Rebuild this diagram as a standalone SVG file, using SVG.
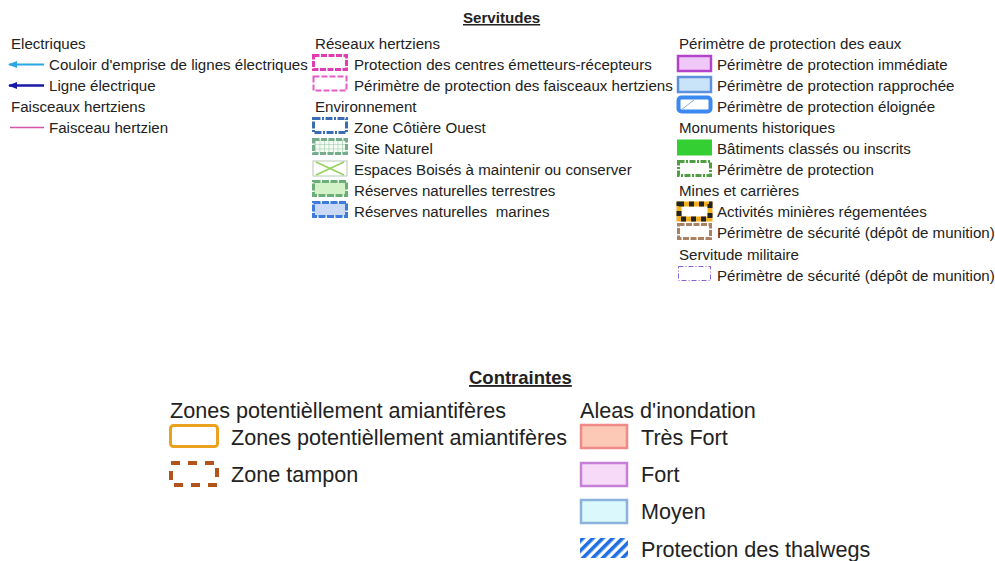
<svg xmlns="http://www.w3.org/2000/svg" width="995" height="561" viewBox="0 0 995 561">
<style>
.t{font-family:"Liberation Sans",Arial,sans-serif;font-size:15.1px;fill:#222}
.big{font-size:21.6px}
.ttl{font-weight:bold;text-decoration:underline}
</style>
<defs>
<marker id="arrA" markerUnits="userSpaceOnUse" markerWidth="9" markerHeight="7" refX="8" refY="3.5" orient="auto" viewBox="0 0 9 7"><path d="M0 0 L9 3.5 L0 7 Z" fill="#29a6e6"/></marker>
<marker id="arrB" markerUnits="userSpaceOnUse" markerWidth="9" markerHeight="7" refX="8" refY="3.5" orient="auto" viewBox="0 0 9 7"><path d="M0 0 L9 3.5 L0 7 Z" fill="#1a1aa6"/></marker>
<pattern id="grid" width="4.5" height="4.5" patternUnits="userSpaceOnUse"><rect width="4.5" height="4.5" fill="#f4fbf4"/><path d="M0 0H4.5M0 0V4.5" stroke="#8cc49a" stroke-width="1"/></pattern>
<pattern id="hatch" width="7" height="7" patternUnits="userSpaceOnUse" patternTransform="rotate(45)"><rect width="7" height="7" fill="#fff"/><rect width="3.6" height="7" fill="#1f6fe0"/></pattern>
</defs>

<text class="t ttl" x="463" y="23">Servitudes</text>

<g id="electriques">
<text class="t" x="11" y="48.5">Electriques</text>
</g>
<g id="connectors">
<line id="couloir-line" x1="44" y1="64.5" x2="9" y2="64.5" stroke="#29a6e6" stroke-width="2" marker-end="url(#arrA)"/>
<line id="ligne-line" x1="44" y1="85.5" x2="9" y2="85.5" stroke="#1a1aa6" stroke-width="2.5" marker-end="url(#arrB)"/>
<line id="faisceau-line" x1="10" y1="127.5" x2="44" y2="127.5" stroke="#d455a8" stroke-width="1.5"/>
</g>
<g id="couloir">
<text class="t" x="49" y="69.5">Couloir d'emprise de lignes électriques</text>
</g>
<g id="ligne">
<text class="t" x="49" y="90.5">Ligne électrique</text>
</g>
<g id="faisceaux-hdr">
<text class="t" x="11" y="111.5">Faisceaux hertziens</text>
</g>
<g id="faisceau">
<text class="t" x="49" y="132.5">Faisceau hertzien</text>
</g>

<g id="reseaux-hdr"><text class="t" x="315" y="48.5">Réseaux hertziens</text></g>
<g id="centres">
<rect x="313.5" y="55.5" width="33" height="14" fill="#fff" stroke="#e03cb4" stroke-width="3" stroke-dasharray="6 1.5"/>
<text class="t" x="354" y="69.5">Protection des centres émetteurs-récepteurs</text>
</g>
<g id="faisceaux-perim">
<rect x="313.5" y="76.5" width="33" height="14" fill="#fff" stroke="#e45cc6" stroke-width="2" stroke-dasharray="6 2"/>
<text class="t" x="354" y="90.5">Périmètre de protection des faisceaux hertziens</text>
</g>
<g id="env-hdr"><text class="t" x="315" y="111.5">Environnement</text></g>
<g id="cotiere">
<rect x="313.5" y="118.5" width="33" height="14" fill="#fff" stroke="#3a6db4" stroke-width="3" stroke-dasharray="7 1.5 2 1.5"/>
<text class="t" x="354" y="132.5">Zone Côtière Ouest</text>
</g>
<g id="site">
<rect x="313.5" y="139.5" width="33" height="14" fill="url(#grid)" stroke="#74ac8c" stroke-width="3" stroke-dasharray="6 1.5"/>
<text class="t" x="354" y="153.5">Site Naturel</text>
</g>
<g id="boises">
<rect x="313" y="161" width="34" height="15" fill="#fff" stroke="#b8c8b8" stroke-width="1"/>
<path d="M316 162 L344 175 M316 175 L344 162" stroke="#96d060" stroke-width="1.5"/>
<text class="t" x="354" y="174.5">Espaces Boisés à maintenir ou conserver</text>
</g>
<g id="terrestres">
<rect x="313.5" y="181.5" width="33" height="14" fill="#d4f2c8" stroke="#6cae78" stroke-width="3" stroke-dasharray="7 1.5"/>
<text class="t" x="354" y="195.5">Réserves naturelles terrestres</text>
</g>
<g id="marines">
<rect x="313.5" y="202.5" width="33" height="14" fill="#c9d9f6" stroke="#3f7bdc" stroke-width="3" stroke-dasharray="7 1.5"/>
<text class="t" x="354" y="216.5" xml:space="preserve">Réserves naturelles  marines</text>
</g>

<g id="eaux-hdr"><text class="t" x="679" y="48.5">Périmètre de protection des eaux</text></g>
<g id="immediate">
<rect x="678" y="56" width="33" height="15" fill="#efc8f8" stroke="#b443cc" stroke-width="2.5"/>
<text class="t" x="717" y="69.6">Périmètre de protection immédiate</text>
</g>
<g id="rapprochee">
<rect x="678" y="77" width="33" height="15" fill="#c9e4f8" stroke="#5e90e0" stroke-width="2.5"/>
<text class="t" x="717" y="90.7">Périmètre de protection rapprochée</text>
</g>
<g id="eloignee">
<rect x="678.5" y="97.5" width="32" height="14" rx="3" fill="#fff" stroke="#3a88f0" stroke-width="4"/>
<path d="M681 110 L694 100" stroke="#8ab0d8" stroke-width="1"/>
<text class="t" x="717" y="111.8">Périmètre de protection éloignée</text>
</g>
<g id="monuments-hdr"><text class="t" x="679" y="132.9">Monuments historiques</text></g>
<g id="batiments">
<rect x="677" y="139.5" width="35" height="16" fill="#33cf33"/>
<text class="t" x="717" y="154">Bâtiments classés ou inscrits</text>
</g>
<g id="perim-prot">
<rect x="678.5" y="161.5" width="32" height="14" fill="#fff" stroke="#4e9e42" stroke-width="3" stroke-dasharray="6 1.5 2 1.5"/>
<text class="t" x="717" y="175.1">Périmètre de protection</text>
</g>
<g id="mines-hdr"><text class="t" x="679" y="196.2">Mines et carrières</text></g>
<g id="activites">
<rect x="679" y="204" width="31" height="15" fill="#fff" stroke="#f0b020" stroke-width="5"/>
<rect x="679" y="204" width="31" height="15" fill="none" stroke="#222" stroke-width="5" stroke-dasharray="5 5"/>
<text class="t" x="717" y="217.3">Activités minières régementées</text>
</g>
<g id="securite-mines">
<rect x="678.5" y="224.5" width="32" height="14" fill="#fff" stroke="#a98264" stroke-width="3" stroke-dasharray="6 1.5"/>
<text class="t" x="717" y="238.4">Périmètre de sécurité (dépôt de munition)</text>
</g>
<g id="militaire-hdr"><text class="t" x="679" y="259.5">Servitude militaire</text></g>
<g id="securite-mil">
<rect x="678.5" y="266.5" width="32" height="14" fill="#fff" stroke="#8a62d6" stroke-width="1" stroke-dasharray="5 2 1 2"/>
<text class="t" x="717" y="280.6">Périmètre de sécurité (dépôt de munition)</text>
</g>

<text class="t ttl" x="469" y="384" style="font-size:18.5px">Contraintes</text>

<g id="amiante-hdr"><text class="t big" x="170" y="418">Zones potentièllement amiantifères</text></g>
<g id="amiante">
<rect x="170.5" y="425.5" width="47" height="21" rx="3" fill="#fff" stroke="#eba11e" stroke-width="3"/>
<text class="t big" x="231" y="445">Zones potentièllement amiantifères</text>
</g>
<g id="tampon">
<rect x="171" y="463" width="46" height="22" fill="none" stroke="#b0541c" stroke-width="4" stroke-dasharray="9 8"/>
<text class="t big" x="231" y="482">Zone tampon</text>
</g>

<g id="aleas-hdr"><text class="t big" x="580" y="418">Aleas d'inondation</text></g>
<g id="tres-fort">
<rect x="581" y="425" width="46" height="23" fill="#fbc9b5" stroke="#f08a88" stroke-width="2.5"/>
<text class="t big" x="641" y="445">Très Fort</text>
</g>
<g id="fort">
<rect x="581" y="463" width="46" height="23" fill="#f6daf8" stroke="#c680d8" stroke-width="2.5"/>
<text class="t big" x="641" y="482">Fort</text>
</g>
<g id="moyen">
<rect x="581" y="500" width="46" height="23" fill="#dbf8fc" stroke="#8ab2da" stroke-width="2.5"/>
<text class="t big" x="641" y="519">Moyen</text>
</g>
<g id="thalwegs">
<rect x="580" y="538" width="48" height="20" fill="url(#hatch)"/>
<text class="t big" x="641" y="557">Protection des thalwegs</text>
</g>
</svg>
